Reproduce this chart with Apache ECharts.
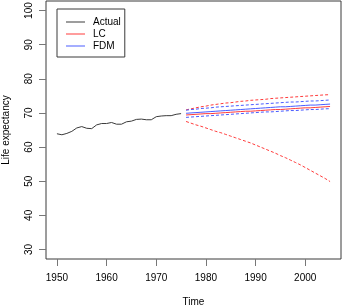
<!DOCTYPE html>
<html>
<head>
<meta charset="utf-8">
<script src="https://cdn.jsdelivr.net/npm/echarts@6/dist/echarts.min.js"></script>
<style>html,body{margin:0;padding:0;background:#fff}#c{width:342px;height:305px}</style>
</head>
<body>
<div id="c"></div>
<script>
var actualYears = [1950,1951,1952,1953,1954,1955,1956,1957,1958,1959,1960,1961,1962,1963,1964,1965,1966,1967,1968,1969,1970,1971,1972,1973,1974,1975];
var actual = [63.9,63.6,64.0,64.6,65.6,66.0,65.5,65.4,66.5,66.9,66.9,67.2,66.7,66.7,67.4,67.6,68.1,68.2,68.0,68.0,68.9,69.1,69.2,69.2,69.6,69.8];
var forecastYears = [1976,1977,1978,1979,1980,1981,1982,1983,1984,1985,1986,1987,1988,1989,1990,1991,1992,1993,1994,1995,1996,1997,1998,1999,2000,2001,2002,2003,2004,2005];
var lcMean = [69.4,69.5,69.6,69.7,69.8,69.8,69.9,70.0,70.1,70.2,70.3,70.4,70.5,70.5,70.6,70.7,70.8,70.9,71.0,71.0,71.1,71.2,71.3,71.4,71.5,71.5,71.6,71.7,71.8,71.9];
var lcUpper = [70.9,71.2,71.5,71.8,72.0,72.3,72.5,72.7,72.9,73.0,73.2,73.4,73.5,73.7,73.8,73.9,74.0,74.2,74.3,74.4,74.5,74.6,74.7,74.8,74.9,75.0,75.1,75.2,75.3,75.35];
var lcLower = [67.5,67.0,66.5,66.1,65.6,65.1,64.6,64.2,63.7,63.2,62.7,62.2,61.7,61.2,60.6,60.0,59.4,58.8,58.2,57.5,56.9,56.2,55.5,54.8,54.0,53.2,52.4,51.6,50.8,49.9];
var fdmMean = [69.9,70.0,70.1,70.2,70.3,70.4,70.5,70.6,70.7,70.8,70.9,71.0,71.1,71.2,71.3,71.4,71.5,71.6,71.7,71.8,71.8,71.9,72.0,72.1,72.2,72.3,72.3,72.4,72.5,72.6];
var fdmUpper = [70.8,71.0,71.1,71.3,71.4,71.5,71.7,71.8,71.9,72.0,72.1,72.2,72.3,72.4,72.5,72.6,72.7,72.8,72.9,73.0,73.1,73.2,73.2,73.3,73.4,73.5,73.5,73.6,73.7,73.8];
var fdmLower = [68.7,68.8,68.9,69.0,69.1,69.2,69.3,69.4,69.5,69.6,69.7,69.8,69.9,70.0,70.1,70.2,70.3,70.3,70.4,70.5,70.6,70.7,70.7,70.8,70.9,71.0,71.0,71.1,71.2,71.25];
var xTicks = [1950,1960,1970,1980,1990,2000];
var yTicks = [30,40,50,60,70,80,90,100];

function pairs(xs, ys){ return xs.map(function(x,i){ return [x, ys[i]]; }); }
function plain(v){ return String(v); }
var FONT = 'Liberation Sans, Arial, Helvetica, sans-serif';
var RED = '#ff3b3b', BLUE = '#4a5cff', BLACK = '#3a3a3a';
function line(name, xs, ys, color, dashed){
  return {type:'line', name:name, data:pairs(xs, ys), symbol:'none', silent:true,
    lineStyle:{color:color, width:1, type: dashed ? [3,2] : 'solid'}, itemStyle:{color:color}};
}
var chart = echarts.init(document.getElementById('c'), null, {renderer:'canvas'});
chart.setOption({
  animation:false,
  textStyle:{fontFamily:FONT},
  grid:{left:46, right:1, top:1, bottom:46, containLabel:false, outerBoundsMode:'none',
    show:true, borderColor:'#3a3a3a', borderWidth:1, backgroundColor:'transparent'},
  xAxis:{type:'value', min:1947.8, max:2007.2,
    name:'Time', nameLocation:'middle', nameGap:38,
    nameTextStyle:{fontSize:10, color:'#000', fontFamily:FONT},
    axisLine:{show:false},
    axisTick:{show:true, customValues:xTicks, length:7, lineStyle:{color:'#777'}},
    axisLabel:{customValues:xTicks, formatter:plain, fontSize:10, color:'#000', margin:14, fontFamily:FONT},
    splitLine:{show:false}},
  yAxis:{type:'value', min:27.2, max:102.8,
    name:'Life expectancy', nameLocation:'middle', nameGap:35,
    nameTextStyle:{fontSize:10, color:'#000', fontFamily:FONT},
    axisLine:{show:false},
    axisTick:{show:true, customValues:yTicks, length:7, lineStyle:{color:'#777'}},
    axisLabel:{customValues:yTicks, formatter:plain, fontSize:10, color:'#000', margin:12, rotate:90, fontFamily:FONT},
    splitLine:{show:false}},
  legend:{data:['Actual','LC','FDM'], orient:'vertical', left:57, top:9,
    icon:'rect', itemWidth:19, itemHeight:1, itemGap:0,
    padding:[7,4,5,9], borderColor:'#3a3a3a', borderWidth:1,
    textStyle:{fontSize:10, color:'#000', lineHeight:12, padding:[0,0,0,3], fontFamily:FONT},
    selectedMode:false},
  series:[
    line('Actual', actualYears, actual, BLACK, false),
    line('LC', forecastYears, lcMean, RED, false),
    line('LC upper', forecastYears, lcUpper, RED, true),
    line('LC lower', forecastYears, lcLower, RED, true),
    line('FDM', forecastYears, fdmMean, BLUE, false),
    line('FDM upper', forecastYears, fdmUpper, BLUE, true),
    line('FDM lower', forecastYears, fdmLower, BLUE, true)
  ]
});
</script>
</body>
</html>
